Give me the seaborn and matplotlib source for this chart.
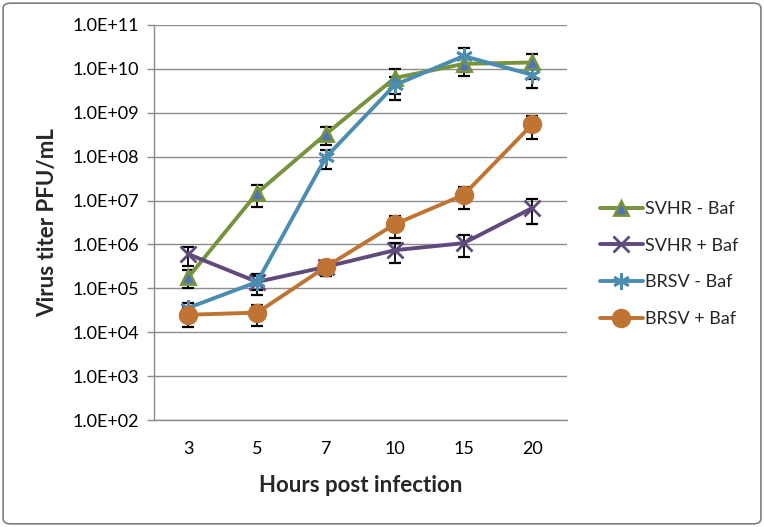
import matplotlib
matplotlib.use("Agg")
import matplotlib.pyplot as plt
import seaborn as sns
import pandas as pd
import numpy as np
from matplotlib.patches import FancyBboxPatch

hours = ["3", "5", "7", "10", "15", "20"]

svhr_minus = [1.8e5, 1.5e7, 3.3e8, 6.2e9, 1.3e10, 1.4e10]
svhr_minus_err = [0.8e5, 0.8e7, 1.5e8, 3.5e9, 6.0e9, 8.0e9]

svhr_plus = [6.0e5, 1.4e5, 3.1e5, 7.4e5, 1.07e6, 6.8e6]
svhr_plus_err = [2.8e5, 0.7e5, 1.2e5, 3.6e5, 5.4e5, 3.9e6]

brsv_minus = [3.6e4, 1.4e5, 9.8e7, 4.3e9, 1.96e10, 7.3e9]
brsv_minus_err = [1.0e4, 0.5e5, 4.5e7, 2.3e9, 1.1e10, 3.7e9]

brsv_plus = [2.5e4, 2.8e4, 3.1e5, 2.9e6, 1.35e7, 5.5e8]
brsv_plus_err = [1.2e4, 1.4e4, 1.2e5, 1.5e6, 7.0e6, 3.0e8]

series_names = ["SVHR - Baf", "SVHR + Baf", "BRSV - Baf", "BRSV + Baf"]
series_vals = [svhr_minus, svhr_plus, brsv_minus, brsv_plus]
series_errs = [svhr_minus_err, svhr_plus_err, brsv_minus_err, brsv_plus_err]

line_colors = ["#77933C", "#604A7B", "#4A8DB0", "#BF7434"]
face_colors = ["#4F6FBF", "#604A7B", "#4A8DB0", "#BF7434"]
markers = ["^", "x", (6, 2, 0), "o"]
msizes = [10, 11, 12, 13]

sns.set_style("white")
plt.rcParams['font.family'] = ['Lato', 'DejaVu Sans']

fig = plt.figure(figsize=(7.64, 5.27), dpi=100)
ax = fig.add_axes([0.2016, 0.203, 0.742 - 0.2016, 0.9526 - 0.203])

rows = []
for name, vals in zip(series_names, series_vals):
    for h, v in zip(hours, vals):
        rows.append({"Hours": h, "Titer": v, "Series": name})
df = pd.DataFrame(rows)

ax.set_yscale("log")
ax.set_ylim(1e2, 1e11)
ax.set_xlim(-0.5, 5.5)
ax.set_yticks([10.0 ** k for k in range(2, 12)])
ax.yaxis.grid(True, color="#8c8c8c", linewidth=1.0)
ax.set_axisbelow(True)

xpos = np.arange(len(hours))
for vals, errs in zip(series_vals, series_errs):
    ax.errorbar(xpos, vals, yerr=errs, fmt="none", ecolor="black",
                elinewidth=1.3, capsize=4.5, capthick=1.6, zorder=2)

for i, (name, vals) in enumerate(zip(series_names, series_vals)):
    sub = df[df["Series"] == name]
    mk = markers[i]
    kw = dict(marker=mk, markersize=msizes[i], linewidth=2.8,
              color=line_colors[i], label=name, zorder=3 + i)
    if i in (1, 2):
        kw.update(markeredgewidth=2.0, markeredgecolor=line_colors[i],
                  markerfacecolor=line_colors[i])
    elif i == 0:
        kw.update(markeredgewidth=2.0, markeredgecolor=line_colors[i],
                  markerfacecolor=face_colors[i])
    else:
        kw.update(markeredgewidth=1.0, markeredgecolor=line_colors[i],
                  markerfacecolor=face_colors[i])
    sns.lineplot(data=sub, x="Hours", y="Titer", ax=ax, sort=False, **kw)

ax.set_xlim(-0.5, 5.5)
ax.set_ylim(1e2, 1e11)
ax.set_xticks(xpos)
ax.set_xticklabels(hours)
ax.set_yticks([10.0 ** k for k in range(2, 12)])
ax.set_yticklabels(["1.0E+%02d" % k for k in range(2, 12)])
ax.yaxis.set_minor_locator(matplotlib.ticker.NullLocator())

ax.set_xticks(np.arange(-0.5, 6.0, 1.0), minor=True)
ax.tick_params(axis="x", which="major", length=0, labelsize=13, pad=15, colors="black")
ax.tick_params(axis="x", which="minor", length=6, width=1, color="#8c8c8c", direction="out")
ax.tick_params(axis="y", which="major", length=5, width=1,
               direction="out", labelsize=13, pad=6, labelcolor="black", left=True)
ax.tick_params(axis="y", color="#8c8c8c")

for s in ["top", "right"]:
    ax.spines[s].set_visible(False)
for s in ["left", "bottom"]:
    ax.spines[s].set_color("#8c8c8c")
    ax.spines[s].set_linewidth(1.0)

ax.set_xlabel("Hours post infection", fontsize=16, fontweight="bold", labelpad=13)
ax.set_ylabel("Virus titer PFU/mL", fontsize=16, fontweight="bold", labelpad=10)

leg = ax.legend(loc="center left", bbox_to_anchor=(1.04, 0.395), frameon=False,
                fontsize=13, handlelength=2.4, labelspacing=1.15, handletextpad=0.1)

fig.patches.append(FancyBboxPatch((0.004, 0.006), 0.992, 0.988,
                                  boxstyle="round,pad=0,rounding_size=0.01",
                                  transform=fig.transFigure, fill=False,
                                  edgecolor="#7f7f7f", linewidth=1.2))

fig.savefig("out.png", dpi=100)
